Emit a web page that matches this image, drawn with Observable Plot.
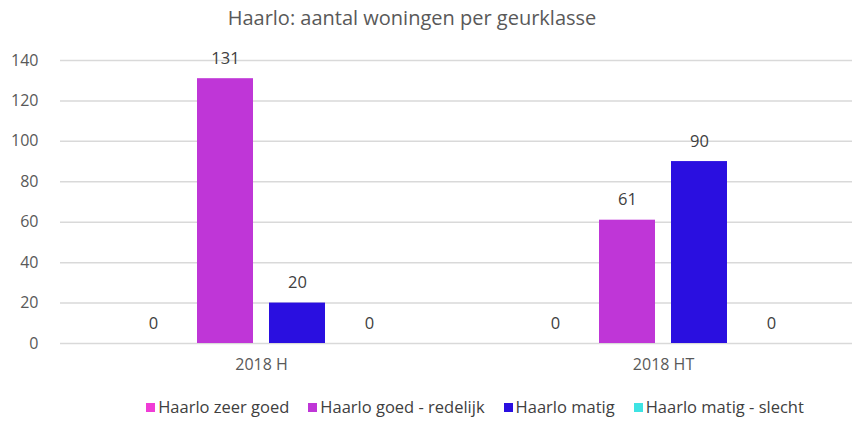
<!DOCTYPE html>
<html><head><meta charset="utf-8">
<script src="https://cdn.jsdelivr.net/npm/d3@7"></script>
<script src="https://cdn.jsdelivr.net/npm/@observablehq/plot@0.6"></script>
<style>
body{margin:0;background:#fff;font-family:"Open Sans",sans-serif;width:852px;height:423px;overflow:hidden}
#title{height:40px;line-height:36px;text-align:center;font-size:20px;color:#595959;padding-right:28px;box-sizing:border-box}
#legend{display:flex;justify-content:center;align-items:center;gap:19px;font-size:16.5px;line-height:22px;color:#404040;margin-top:11px;padding-left:98px}
.sw{display:inline-flex;align-items:center;gap:3px}
.sq{width:9px;height:9px;display:inline-block}
</style></head>
<body>
<div id="title">Haarlo: aantal woningen per geurklasse</div>
<div id="chart"></div>
<div id="legend"></div>
<script>
const categories = ["2018 H", "2018 HT"];
const series = ["Haarlo zeer goed", "Haarlo goed - redelijk", "Haarlo matig", "Haarlo matig - slecht"];
const colors = ["#F03CD6", "#BF36D7", "#2A0FE0", "#3EE3E3"];
const values2018H = [0, 131, 20, 0];
const values2018HT = [0, 61, 90, 0];
const yTicks = [0, 20, 40, 60, 80, 100, 120, 140];

const valuesByCat = [values2018H, values2018HT];
const data = [];
categories.forEach((c, i) => series.forEach((s, j) => data.push({cat: c, series: s, value: valuesByCat[i][j]})));

const chart = Plot.plot({
  width: 852,
  height: 345,
  marginTop: 20,
  marginBottom: 42,
  marginLeft: 60,
  marginRight: 0,
  style: {fontFamily: "Open Sans, sans-serif", fontSize: "16px", color: "#595959", background: "#fff", overflow: "visible"},
  fx: {domain: categories, range: [60, 864], padding: 0, label: null},
  x: {domain: series, paddingInner: 0.22, paddingOuter: 0.864, axis: null},
  y: {domain: [0, 140], ticks: yTicks, label: null},
  color: {domain: series, range: colors},
  marks: [
    Plot.gridY(yTicks, {stroke: "#d9d9d9", strokeOpacity: 1, strokeWidth: 1.5}),
    Plot.axisY(yTicks, {tickSize: 0, tickPadding: 22, fontSize: 16, fill: "#595959", label: null}),
    Plot.axisFx({anchor: "bottom", tickSize: 0, tickPadding: 15, fontSize: 16, fill: "#595959", label: null}),
    Plot.barY(data, {fx: "cat", x: "series", y: "value", fill: "series"}),
    Plot.text(data, {fx: "cat", x: "series", y: "value", text: d => String(d.value), dy: -20, fontSize: 16.5, fill: "#404040"})
  ]
});
document.getElementById("chart").appendChild(chart);

const leg = document.getElementById("legend");
series.forEach((s, i) => {
  const item = document.createElement("span");
  item.className = "sw";
  const sq = document.createElement("span");
  sq.className = "sq";
  sq.style.background = colors[i];
  item.appendChild(sq);
  item.appendChild(document.createTextNode(s));
  leg.appendChild(item);
});
</script>
</body></html>
